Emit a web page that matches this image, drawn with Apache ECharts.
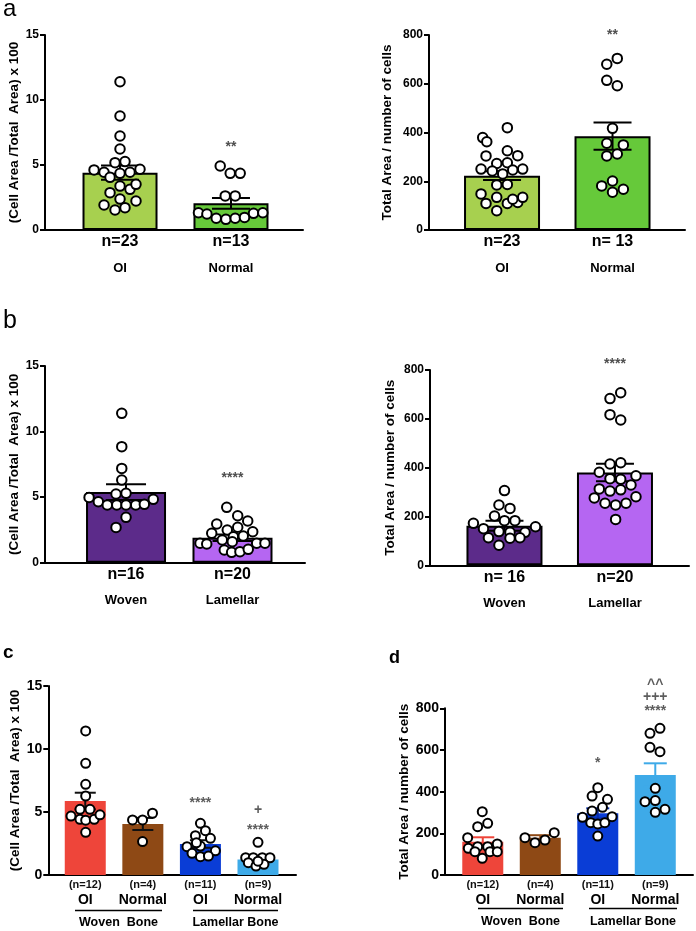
<!DOCTYPE html>
<html><head><meta charset="utf-8">
<script src="https://cdn.jsdelivr.net/npm/echarts@6/dist/echarts.min.js"></script>
<style>html,body{margin:0;padding:0;background:#fff}#c{width:696px;height:931px}</style>
</head><body><div id="c"></div>
<script>
// ---------------- DATA ----------------
// Panel a (left): (Cell Area / Total Area) x 100
const aL_groups = ['OI', 'Normal'];
const aL_nLabels = ['n=23', 'n=13'];
const aL_ticks = [0, 5, 10, 15];
const aL_mean = [4.41, 2.05];
const aL_sem = [0.55, 0.42];
const aL_ptsOI = [11.4, 8.77, 7.23, 6.23, 5.18, 5.26, 4.62, 4.44, 4.36, 4.44, 4.67, 4.05, 3.38, 3.13, 3.51, 2.87, 2.38, 2.23, 1.92, 1.54, 1.72];
const aL_jitOI = [0, 0, 0, 0, -0.045, 0.045, -0.234, -0.144, 0, 0.09, 0.18, -0.09, 0, 0.09, 0.144, -0.09, 0, 0.144, -0.144, -0.045, 0.045];
const aL_ptsNormal = [4.92, 4.36, 4.36, 2.62, 2.62, 1.33, 1.23, 0.9, 0.82, 0.9, 0.97, 1.28, 1.33];
const aL_jitNormal = [-0.097, -0.007, 0.083, -0.052, 0.038, -0.293, -0.217, -0.133, -0.046, 0.038, 0.122, 0.203, 0.287];
const aL_annot = [['**', 1, 6.35]];

// Panel a (right): Total Area / number of cells
const aR_groups = ['OI', 'Normal'];
const aR_nLabels = ['n=23', 'n= 13'];
const aR_ticks = [0, 200, 400, 600, 800];
const aR_mean = [223, 385];
const aR_sem = [18, 56];
const aR_ptsOI = [420, 379, 362, 325, 304, 305, 273, 276, 250, 242, 230, 246, 250, 185, 187, 148, 134, 109, 109, 113, 134, 126, 79];
const aR_jitOI = [0.048, -0.175, -0.138, 0.048, -0.145, 0.142, -0.048, 0.048, -0.19, -0.088, 0.006, 0.097, 0.187, -0.048, 0.048, -0.19, -0.048, -0.145, 0.048, 0.142, 0.187, 0.097, -0.048];
const aR_ptsNormal = [704, 680, 614, 592, 417, 356, 349, 312, 304, 201, 181, 167, 155];
const aR_jitNormal = [0.043, -0.052, -0.052, 0.043, 0, -0.052, 0.098, 0.043, -0.052, 0, -0.098, 0.098, 0];
const aR_annot = [['**', 1, 801]];

// Panel b (left)
const bL_groups = ['Woven', 'Lamellar'];
const bL_nLabels = ['n=16', 'n=20'];
const bL_ticks = [0, 5, 10, 15];
const bL_mean = [5.39, 1.91];
const bL_sem = [0.6, 0.25];
const bL_ptsWoven = [11.39, 8.85, 7.19, 6.3, 5.24, 5.29, 4.98, 4.65, 4.4, 4.4, 4.4, 4.4, 4.45, 4.83, 3.46, 2.69];
const bL_jitWoven = [-0.04, -0.04, -0.04, -0.04, -0.094, 0, -0.347, -0.26, -0.176, -0.087, 0, 0.091, 0.172, 0.256, 0, -0.094];
const bL_ptsLamellar = [4.22, 3.58, 3.18, 2.95, 2.49, 2.7, 2.36, 2.24, 1.98, 2.04, 1.48, 1.43, 1.73, 1.6, 1.48, 1.48, 0.97, 0.79, 0.84, 1.02];
const bL_jitLamellar = [-0.054, 0.049, 0.143, -0.148, -0.049, 0.049, 0.19, -0.195, 0.008, 0.101, -0.305, -0.242, -0.096, -0.002, 0.227, 0.305, -0.077, -0.008, 0.07, 0.148];
const bL_annot = [['****', 1, 6.44]];

// Panel b (right)
const bR_groups = ['Woven', 'Lamellar'];
const bR_nLabels = ['n= 16', 'n=20'];
const bR_ticks = [0, 200, 400, 600, 800];
const bR_mean = [162, 380];
const bR_sem = [20, 36];
const bR_ptsWoven = [306, 247, 233, 202, 183, 183, 172, 158, 150, 138, 135, 135, 113, 111, 113, 82];
const bR_jitWoven = [0, -0.05, 0.05, -0.09, 0, 0.095, -0.281, 0.281, -0.19, -0.05, 0.05, 0.186, -0.145, 0.05, 0.14, -0.05];
const bR_ptsLamellar = [707, 683, 617, 595, 420, 415, 381, 355, 352, 367, 329, 313, 304, 309, 276, 281, 254, 247, 254, 188];
const bR_jitLamellar = [0.052, -0.045, -0.045, 0.052, 0.052, -0.045, -0.142, -0.045, 0.052, 0.19, 0.145, -0.142, -0.045, 0.052, -0.187, 0.19, -0.09, 0.006, 0.1, 0.006];
const bR_annot = [['****', 1, 826]];

// Panel c
const c_groups = ['OI', 'Normal', 'OI', 'Normal'];
const c_nLabels = ['(n=12)', '(n=4)', '(n=11)', '(n=9)'];
const c_boneGroups = ['Woven  Bone', 'Lamellar Bone'];
const c_ticks = [0, 5, 10, 15];
const c_mean = [5.87, 4.05, 2.46, 1.24];
const c_sem = [0.66, 0.48, 0.3, 0.2];
const c_ptsWovenOI = [11.43, 8.86, 7.2, 6.27, 5.21, 5.21, 4.68, 4.42, 4.35, 4.42, 4.78, 3.39];
const c_jitWovenOI = [0.007, 0.007, 0.007, 0.007, -0.092, 0.082, -0.248, -0.092, 0.007, 0.156, 0.255, 0.007];
const c_ptsWovenNormal = [4.37, 4.37, 4.9, 2.65];
const c_jitWovenNormal = [-0.179, -0.005, 0.168, -0.005];
const c_ptsLamOI = [4.1, 3.52, 3.12, 2.91, 2.25, 2.3, 1.92, 1.72, 1.45, 1.5, 2.55];
const c_jitLamOI = [0, 0.087, -0.087, 0.174, -0.233, 0, 0.26, -0.146, 0, 0.139, -0.07];
const c_ptsLamNormal = [2.59, 1.37, 1.37, 1.37, 1.37, 0.98, 0.71, 0.85, 1.1];
const c_jitLamNormal = [0, -0.214, -0.082, 0.075, 0.208, -0.168, -0.035, 0.104, 0];
const c_annot = [['****', 2, 5.67], ['+', 3, 5.16], ['****', 3, 3.55]];

// Panel d
const d_groups = ['OI', 'Normal', 'OI', 'Normal'];
const d_nLabels = ['(n=12)', '(n=4)', '(n=11)', '(n=9)'];
const d_boneGroups = ['Woven  Bone', 'Lamellar Bone'];
const d_ticks = [0, 200, 400, 600, 800];
const d_mean = [160, 179, 296, 480];
const d_sem = [21, 12, 24, 56];
const d_ptsWovenOI = [304, 232, 248, 179, 128, 136, 136, 149, 112, 112, 112, 80];
const d_jitWovenOI = [-0.009, -0.089, 0.085, -0.263, -0.252, -0.089, 0.085, 0.252, -0.136, 0.125, 0.252, -0.009];
const d_ptsWovenNormal = [179, 155, 168, 203];
const d_jitWovenNormal = [-0.266, -0.092, 0.082, 0.243];
const d_ptsLamOI = [419, 379, 363, 325, 307, 277, 251, 245, 251, 280, 187];
const d_jitLamOI = [0, -0.099, 0.169, 0.082, -0.099, -0.266, -0.122, 0, 0.122, 0.249, 0];
const d_ptsLamNormal = [704, 680, 613, 592, 416, 352, 357, 315, 301];
const d_jitLamNormal = [0.082, -0.092, -0.092, 0.082, 0, -0.179, 0, 0.169, 0];
const d_annot = [['*', 2, 536], ['****', 3, 788], ['+++', 3, 855], ['^^', 3, 913]];

// ---------------- STYLE / LAYOUT ----------------
const FONT = "'Liberation Sans', Arial, Helvetica, sans-serif";
const greenOI = '#a7d04f', greenN = '#66c93a';
const purpW = '#5c2b8a', purpL = '#b566f2';
const red = '#ee453a', brown = '#8e4915', blue = '#0a3dd6', lblue = '#3eaae8';

const panels = [
  { grid: [45, 35, 258, 195], xr: [-0.676, 1.649], ticks: aL_ticks, groups: aL_groups, nLabels: aL_nLabels,
    mean: aL_mean, sem: aL_sem, pts: [aL_ptsOI, aL_ptsNormal], jit: [aL_jitOI, aL_jitNormal], annot: aL_annot,
    colors: [greenOI, greenN], errColors: ['#000', '#000'], barPx: 75, capPx: 38, border: 2,
    yName: '(Cell Area /Total  Area) x 100', nameGap: 20, style: 'ab' },
  { grid: [429, 35, 256, 195], xr: [-0.661, 1.656], ticks: aR_ticks, groups: aR_groups, nLabels: aR_nLabels,
    mean: aR_mean, sem: aR_sem, pts: [aR_ptsOI, aR_ptsNormal], jit: [aR_jitOI, aR_jitNormal], annot: aR_annot,
    colors: [greenOI, greenN], errColors: ['#000', '#000'], barPx: 76, capPx: 38, border: 2,
    yName: 'Total Area / number of cells', nameGap: 35, style: 'ab' },
  { grid: [45, 366, 260, 196.7], xr: [-0.761, 1.681], ticks: bL_ticks, groups: bL_groups, nLabels: bL_nLabels,
    mean: bL_mean, sem: bL_sem, pts: [bL_ptsWoven, bL_ptsLamellar], jit: [bL_jitWoven, bL_jitLamellar], annot: bL_annot,
    colors: [purpW, purpL], errColors: ['#000', '#000'], barPx: 80, capPx: 40, border: 2,
    yName: '(Cell Area /Total  Area) x 100', nameGap: 21, style: 'ab' },
  { grid: [430, 370, 259, 195.3], xr: [-0.674, 1.67], ticks: bR_ticks, groups: bR_groups, nLabels: bR_nLabels,
    mean: bR_mean, sem: bR_sem, pts: [bR_ptsWoven, bR_ptsLamellar], jit: [bR_jitWoven, bR_jitLamellar], annot: bR_annot,
    colors: [purpW, purpL], errColors: ['#000', '#000'], barPx: 76, capPx: 38, border: 2,
    yName: 'Total Area / number of cells', nameGap: 33, style: 'ab' },
  { grid: [48.3, 686, 247.7, 189], xr: [-0.642, 3.66], ticks: c_ticks, groups: c_groups, nLabels: c_nLabels,
    mean: c_mean, sem: c_sem, pts: [c_ptsWovenOI, c_ptsWovenNormal, c_ptsLamOI, c_ptsLamNormal],
    jit: [c_jitWovenOI, c_jitWovenNormal, c_jitLamOI, c_jitLamNormal], annot: c_annot,
    colors: [red, brown, blue, lblue], errColors: ['#111', '#111', '#111', '#111'], barPx: 41, capPx: 21, border: 0,
    yName: '(Cell Area /Total  Area) x 100', nameGap: 26, style: 'cd' },
  { grid: [445, 708.3, 248, 166.7], xr: [-0.657, 3.656], ticks: d_ticks, groups: d_groups, nLabels: d_nLabels,
    mean: d_mean, sem: d_sem, pts: [d_ptsWovenOI, d_ptsWovenNormal, d_ptsLamOI, d_ptsLamNormal],
    jit: [d_jitWovenOI, d_jitWovenNormal, d_jitLamOI, d_jitLamNormal], annot: d_annot,
    colors: [red, brown, blue, lblue], errColors: [red, brown, '#0a2ea8', lblue], barPx: 41, capPx: 23, border: 0,
    yName: 'Total Area / number of cells', nameGap: 33, style: 'cd' }
];

const option = { animation: false, backgroundColor: '#fff', grid: [], xAxis: [], yAxis: [], series: [], graphic: [] };

panels.forEach((p, gi) => {
  const isAB = p.style === 'ab';
  option.grid.push({ left: p.grid[0], top: p.grid[1], width: p.grid[2], height: p.grid[3],
    containLabel: false, outerBoundsMode: 'none' });
  const idx = p.groups.map((g, i) => i);
  option.xAxis.push({
    type: 'value', gridIndex: gi, min: p.xr[0], max: p.xr[1],
    axisLine: { show: true, onZero: false, lineStyle: { color: '#000', width: 2 } },
    axisTick: { show: false }, splitLine: { show: false },
    axisLabel: {
      customValues: idx, margin: 2, color: '#000', fontFamily: FONT,
      formatter: v => { const i = Math.round(v); return '{n|' + p.nLabels[i] + '}\n{g|' + p.groups[i] + '}'; },
      rich: isAB ? {
        n: { fontSize: 16, fontWeight: 'bold', lineHeight: 20, fontFamily: FONT, color: '#000' },
        g: { fontSize: 13, fontWeight: 'bold', lineHeight: 32, fontFamily: FONT, color: '#000' }
      } : {
        n: { fontSize: 11, fontWeight: 'bold', lineHeight: 16, fontFamily: FONT, color: '#111' },
        g: { fontSize: 14, fontWeight: 'bold', lineHeight: 15, fontFamily: FONT, color: '#000' }
      }
    }
  });
  const t = p.ticks;
  option.yAxis.push({
    type: 'value', gridIndex: gi, min: t[0], max: t[t.length - 1], interval: t[1] - t[0],
    axisLine: { show: true, onZero: false, lineStyle: { color: '#000', width: 2 } },
    axisTick: { show: true, length: 5, lineStyle: { color: '#000', width: 2 } },
    splitLine: { show: false },
    axisLabel: { margin: 6, color: '#000', fontWeight: 'bold', fontFamily: FONT, fontSize: isAB ? 12 : 14 },
    name: p.yName, nameLocation: 'middle', nameGap: p.nameGap,
    nameTextStyle: { color: '#000', fontWeight: 'bold', fontFamily: FONT, fontSize: 13.5 }
  });
  // bars
  option.series.push({
    type: 'bar', xAxisIndex: gi, yAxisIndex: gi, barWidth: p.barPx, z: 2,
    data: p.mean.map((m, i) => ({ value: [i, m], itemStyle: { color: p.colors[i], borderColor: '#000', borderWidth: p.border } }))
  });
  // error bars
  option.series.push({
    type: 'custom', xAxisIndex: gi, yAxisIndex: gi, z: 3, silent: true,
    data: p.sem.map((s, i) => [i, p.mean[i], s]),
    renderItem: (params, api) => {
      const x = api.value(0), m = api.value(1), s = api.value(2);
      const top = api.coord([x, m + s]), bot = api.coord([x, m - s]);
      const cx = top[0], hw = p.capPx / 2, col = p.errColors[params.dataIndex];
      const st = { stroke: col, lineWidth: 2 };
      return { type: 'group', children: [
        { type: 'line', shape: { x1: cx, y1: top[1], x2: cx, y2: bot[1] }, style: st },
        { type: 'line', shape: { x1: cx - hw, y1: top[1], x2: cx + hw, y2: top[1] }, style: st },
        { type: 'line', shape: { x1: cx - hw, y1: bot[1], x2: cx + hw, y2: bot[1] }, style: st }
      ] };
    }
  });
  // points
  const pdata = [];
  p.pts.forEach((arr, i) => arr.forEach((v, k) => pdata.push([i + p.jit[i][k], v])));
  option.series.push({
    type: 'scatter', xAxisIndex: gi, yAxisIndex: gi, z: 4, clip: false, silent: true,
    symbol: 'circle', symbolSize: isAB ? 9.5 : 9,
    itemStyle: { color: '#fff', borderColor: '#000', borderWidth: 2, opacity: 1 },
    data: pdata
  });
  // annotations
  option.series.push({
    type: 'scatter', xAxisIndex: gi, yAxisIndex: gi, z: 5, clip: false, silent: true,
    symbol: 'circle', symbolSize: 1, itemStyle: { color: 'rgba(0,0,0,0)' },
    data: p.annot.map(a => [a[1], a[2]]),
    label: { show: true, position: 'inside', formatter: q => p.annot[q.dataIndex][0],
      color: isAB ? '#222' : '#333', fontWeight: 'bold', fontFamily: FONT, fontSize: 14 }
  });
});

// panel letters
option.graphic.push(
  { type: 'text', left: 3, top: -3, style: { text: 'a', fontSize: 24, fontFamily: FONT, fill: '#000' } },
  { type: 'text', left: 3, top: 309, style: { text: 'b', fontSize: 25, fontFamily: FONT, fill: '#000' } },
  { type: 'text', left: 3, top: 643, style: { text: 'c', fontSize: 19, fontWeight: 'bold', fontFamily: FONT, fill: '#000' } },
  { type: 'text', left: 389, top: 649, style: { text: 'd', fontSize: 18, fontWeight: 'bold', fontFamily: FONT, fill: '#000' } }
);
// bone-type group lines and labels for c and d
function boneGroup(x1, x2, yLine, label, yText) {
  option.graphic.push(
    { type: 'line', shape: { x1: x1, y1: yLine, x2: x2, y2: yLine }, style: { stroke: '#000', lineWidth: 1.5 } },
    { type: 'text', x: (x1 + x2) / 2, y: yText, style: { text: label, fontSize: 12.5, fontWeight: 'bold', fontFamily: FONT, fill: '#000', textAlign: 'center', textVerticalAlign: 'middle' } }
  );
}
boneGroup(75, 162, 910.5, c_boneGroups[0], 923);
boneGroup(193, 278, 910.5, c_boneGroups[1], 923);
boneGroup(478, 563, 908.5, d_boneGroups[0], 921.5);
boneGroup(589, 677, 908.5, d_boneGroups[1], 921.5);

const chart = echarts.init(document.getElementById('c'), null, { renderer: 'canvas' });
chart.setOption(option);
</script>
</body></html>
